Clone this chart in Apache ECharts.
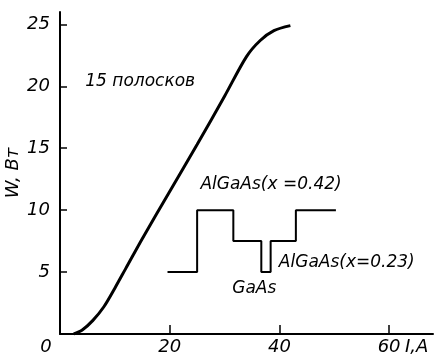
<!DOCTYPE html>
<html>
<head>
<meta charset="utf-8">
<script src="https://cdn.jsdelivr.net/npm/echarts@6/dist/echarts.min.js"></script>
<style>html,body{margin:0;padding:0;background:#fff}#c{width:435px;height:359px}</style>
</head>
<body>
<div id="c"></div>
<script>
// Output power W (Вт) vs current I (A)
const currentA = [2.5, 4, 6, 8, 10, 12, 15, 20, 25, 30, 34, 36.5, 39, 42];
const powerW  = [0, 0.3, 1.1, 2.2, 3.7, 5.3, 7.7, 11.5, 15.3, 19.2, 22.4, 23.7, 24.5, 24.9];
// Inset band profile (drawn in axis units)
const profileX = [19.6, 25, 25, 31.6, 31.6, 36.7, 36.7, 38.4, 38.4, 43, 43, 50.3];
const profileY = [5, 5, 10, 10, 7.5, 7.5, 5, 5, 7.5, 7.5, 10, 10];
// Annotations: text and anchor (axis units)
const noteText = ['15 полосков', 'AlGaAs(x =0.42)', 'AlGaAs(x=0.23)', 'GaAs'];
const noteX = [4.6, 25.6, 39.9, 31.4];
const noteY = [20.4, 12.05, 5.75, 3.7];
const xTicks = [0, 20, 40, 60];
const yTicks = [5, 10, 15, 20, 25];

const FONT = '"DejaVu Sans", sans-serif';
const chart = echarts.init(document.getElementById('c'), null, {renderer: 'canvas'});
chart.setOption({
  backgroundColor: '#fff',
  animation: false,
  grid: {left: 60, right: 2, top: 12, bottom: 25, containLabel: false, outerBoundsMode: 'none'},
  xAxis: {
    type: 'value', min: 0, max: 68,
    name: 'I,A', nameLocation: 'end', nameGap: -28, nameMoveOverlap: false,
    nameTextStyle: {color: '#000', fontSize: 18, fontStyle: 'italic', fontFamily: FONT, verticalAlign: 'top', align: 'left', padding: [4, 0, 0, 0]},
    axisLine: {lineStyle: {color: '#000', width: 2}},
    axisTick: {show: true, inside: true, length: 9, customValues: [20, 40, 60], lineStyle: {color: '#000', width: 1.5}},
    axisLabel: {
      customValues: xTicks, margin: 4, color: '#000', fontSize: 18, fontStyle: 'italic', fontFamily: FONT,
      formatter: v => v === 0 ? '{z|0}' : String(v),
      rich: {z: {padding: [0, 28, 0, 0], fontSize: 18, fontStyle: 'italic', fontFamily: FONT, color: '#000'}}
    },
    splitLine: {show: false}
  },
  yAxis: {
    type: 'value', min: 0, max: 26,
    name: 'W, Вт', nameLocation: 'middle', nameGap: 38, nameMoveOverlap: false,
    nameTextStyle: {color: '#000', fontSize: 18, fontStyle: 'italic', fontFamily: FONT},
    axisLine: {show: true, lineStyle: {color: '#000', width: 2}},
    axisTick: {show: true, inside: true, length: 7, customValues: yTicks, lineStyle: {color: '#000', width: 1.5}},
    axisLabel: {customValues: yTicks, margin: 10, color: '#000', fontSize: 18, fontStyle: 'italic', fontFamily: FONT},
    splitLine: {show: false}
  },
  series: [
    {
      type: 'line', smooth: 0.3, symbol: 'none',
      data: currentA.map((x, i) => [x, powerW[i]]),
      lineStyle: {color: '#000', width: 3}
    },
    {
      type: 'line', symbol: 'none',
      data: profileX.map((x, i) => [x, profileY[i]]),
      lineStyle: {color: '#000', width: 2}
    },
    {
      type: 'scatter', symbolSize: 0, itemStyle: {opacity: 1},
      data: noteText.map((t, i) => [noteX[i], noteY[i], t]),
      label: {
        show: true, position: [0, 0], align: 'left', verticalAlign: 'middle',
        formatter: p => p.value[2],
        color: '#000', opacity: 1, fontSize: 17, fontStyle: 'italic', fontFamily: FONT
      }
    }
  ]
});
</script>
</body>
</html>
